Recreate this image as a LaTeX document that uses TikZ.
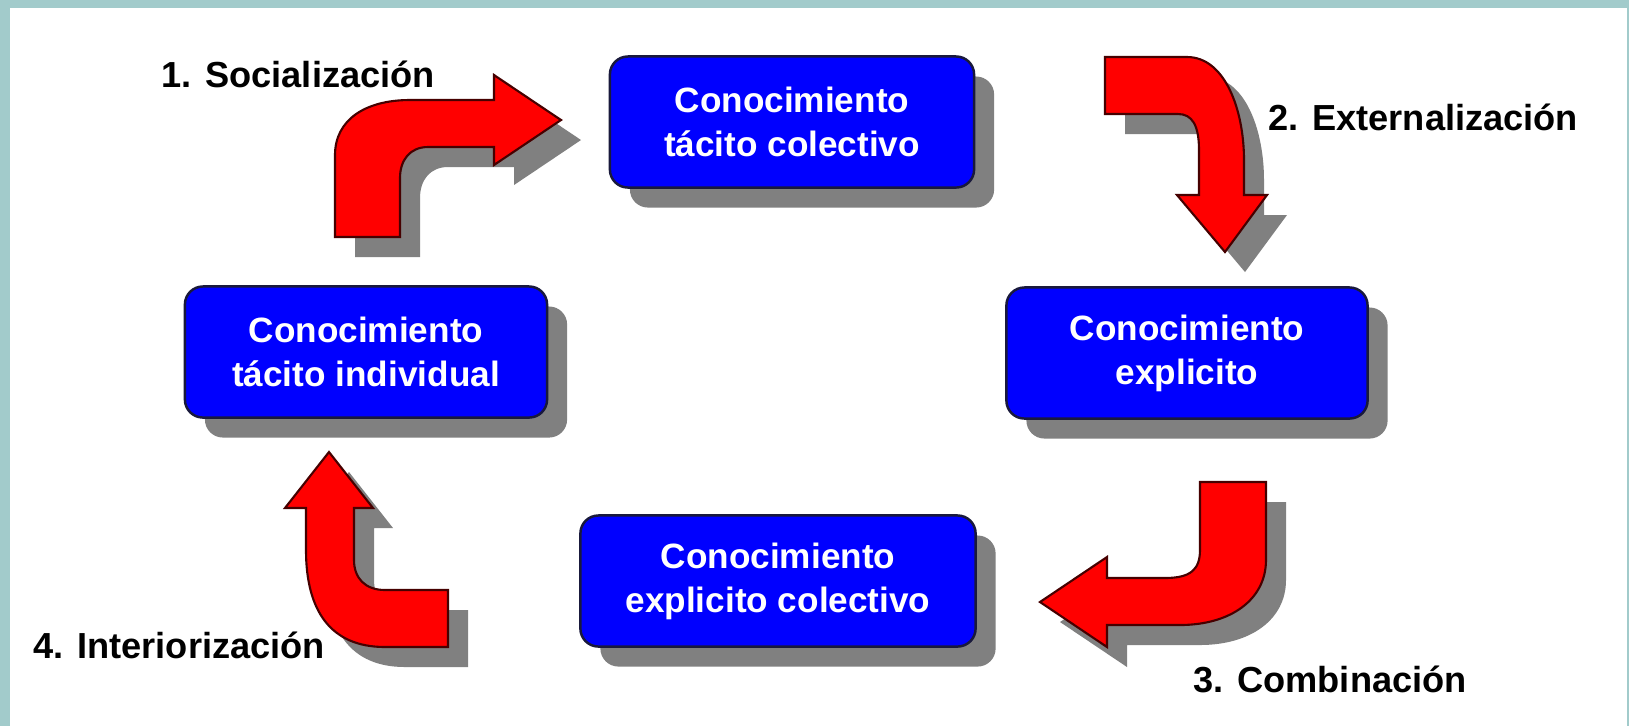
\documentclass[tikz,border=0pt]{standalone}
\usepackage{fontspec}
\setmainfont{Liberation Sans}
\usetikzlibrary{shadows}
\definecolor{framecol}{RGB}{162,203,203}
\definecolor{shadecol}{RGB}{128,128,128}
\definecolor{boxblue}{RGB}{0,0,255}
\definecolor{boxline}{RGB}{25,25,60}
\definecolor{arrowred}{RGB}{255,0,0}
\definecolor{arrowline}{RGB}{70,0,0}
\tikzset{
  know/.style={draw=boxline, line width=0.7pt, fill=boxblue, rounded corners=0.18cm,
    text=white, font=\fontsize{10}{12.5}\selectfont\bfseries, align=center,
    minimum height=1.31cm,
    drop shadow={shadow xshift=0.2cm, shadow yshift=-0.2cm, fill=shadecol, opacity=1}},
  bent/.style={fill=arrowred, draw=arrowline, line width=0.6pt,
    drop shadow={shadow xshift=0.2cm, shadow yshift=-0.2cm, fill=shadecol, opacity=1}},
  stage/.style={font=\fontsize{10.3}{12}\selectfont\bfseries, anchor=base west, inner sep=0pt}
}
\begin{document}
\begin{tikzpicture}[x=0.01cm, y=-0.01cm]
\fill[framecol] (0,0) rectangle (1629,726);
\fill[white] (10,8) rectangle (1627,726);
\useasboundingbox (0,0) rectangle (1629,726);

\node[know, minimum width=3.64cm] (tcol) at (792,122) {Conocimiento\\tácito colectivo};
\node[know, minimum width=3.62cm] (tind) at (366,352) {Conocimiento\\tácito individual};
\node[know, minimum width=3.61cm] (expl) at (1187,353) {Conocimiento\\explicito};
\node[know, minimum width=3.95cm] (ecol) at (778,581) {Conocimiento\\explicito colectivo};

\draw[bent] (335,237) -- (335,155) .. controls (335,120) and (365,100) .. (410,100)
  -- (494,100) -- (494,75) -- (561,120) -- (494,165) -- (494,147) -- (428,147)
  .. controls (410,147) and (400,160) .. (400,178) -- (400,237) -- cycle;
\draw[bent] (1105,57) -- (1187,57) .. controls (1225,57) and (1244,110) .. (1244,160)
  -- (1244,195) -- (1267,195) -- (1225,252) -- (1177,195) -- (1199,195) -- (1199,150)
  .. controls (1199,125) and (1192,114) .. (1178,114) -- (1105,114) -- cycle;
\draw[bent] (1200,482) -- (1266,482) -- (1266,560) .. controls (1266,600) and (1230,625) .. (1180,625)
  -- (1107,625) -- (1107,647) -- (1040,602) -- (1107,557) -- (1107,578) -- (1165,578)
  .. controls (1190,578) and (1200,570) .. (1200,550) -- cycle;
\draw[bent] (306,508) -- (306,550) .. controls (306,610) and (330,647) .. (385,647)
  -- (448,647) -- (448,590) -- (385,590) .. controls (365,590) and (354,578) .. (354,560)
  -- (354,508) -- (373,508) -- (329,452) -- (285,508) -- cycle;

\node[stage] (soc) at (161,87) {1. Socialización};
\node[stage] (ext) at (1268,130) {2. Externalización};
\node[stage] (comb) at (1193,692) {3. Combinación};
\node[stage] (inter) at (33,658) {4. Interiorización};
\end{tikzpicture}
\end{document}
